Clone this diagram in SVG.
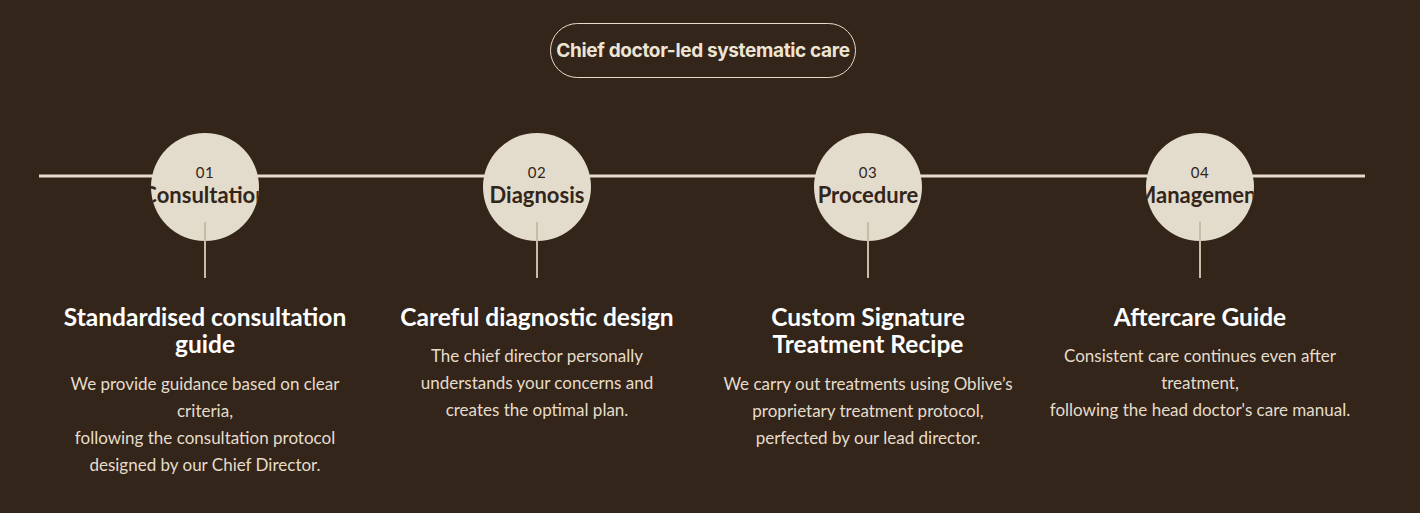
<svg xmlns="http://www.w3.org/2000/svg" width="1420" height="513" viewBox="0 0 1420 513">
<style>
.bg{fill:#33251a}
.pill{fill:none;stroke:#e6dccb;stroke-width:1}
.pilltxt{font-family:Inter,"Liberation Sans",sans-serif;font-weight:700;font-size:19px;fill:#eee4d4;text-anchor:middle;letter-spacing:-0.35px}
.circ{fill:#e3dccc}
.num{font-family:Lato,"Liberation Sans",sans-serif;font-size:15px;fill:#33251a;text-anchor:middle;letter-spacing:0.5px}
.lbl{font-family:Lato,"Liberation Sans",sans-serif;font-weight:700;font-size:22px;fill:#33251a;text-anchor:middle}
.head{font-family:Lato,"Liberation Sans",sans-serif;font-weight:700;font-size:24.5px;fill:#ffffff;text-anchor:middle}
.body{font-family:Lato,"Liberation Sans",sans-serif;font-size:17px;fill:#e6dccb;text-anchor:middle}
.hline{stroke:#e6dccb;stroke-width:3}
.vline{stroke:#c8bba8;stroke-width:2}
</style>
<defs>
<clipPath id="c1"><circle cx="205" cy="187" r="54"/></clipPath>
<clipPath id="c2"><circle cx="537" cy="187" r="54"/></clipPath>
<clipPath id="c3"><circle cx="868" cy="187" r="54"/></clipPath>
<clipPath id="c4"><circle cx="1200" cy="187" r="54"/></clipPath>
</defs>
<rect class="bg" x="0" y="0" width="1420" height="513"/>
<g id="title">
<rect class="pill" x="550.5" y="23.5" width="305" height="54" rx="27"/>
<text class="pilltxt" x="703" y="57">Chief doctor-led systematic care</text>
</g>
<g id="connectors">
<line class="hline" x1="39" y1="176" x2="1365" y2="176"/>
</g>
<g id="step1">
<circle class="circ" cx="205" cy="187" r="54"/>
<g clip-path="url(#c1)">
<text class="num" x="205" y="178">01</text>
<text class="lbl" x="205" y="203">Consultation</text>
</g>
<line class="vline" x1="205" y1="222" x2="205" y2="278"/>
<text class="head" x="205" y="326">Standardised consultation</text>
<text class="head" x="205" y="353">guide</text>
<text class="body" x="205" y="390">We provide guidance based on clear</text>
<text class="body" x="205" y="417">criteria,</text>
<text class="body" x="205" y="444">following the consultation protocol</text>
<text class="body" x="205" y="471">designed by our Chief Director.</text>
</g>
<g id="step2">
<circle class="circ" cx="537" cy="187" r="54"/>
<g clip-path="url(#c2)">
<text class="num" x="537" y="178">02</text>
<text class="lbl" x="537" y="203">Diagnosis</text>
</g>
<line class="vline" x1="537" y1="222" x2="537" y2="278"/>
<text class="head" x="537" y="326">Careful diagnostic design</text>
<text class="body" x="537" y="362">The chief director personally</text>
<text class="body" x="537" y="389">understands your concerns and</text>
<text class="body" x="537" y="416">creates the optimal plan.</text>
</g>
<g id="step3">
<circle class="circ" cx="868" cy="187" r="54"/>
<g clip-path="url(#c3)">
<text class="num" x="868" y="178">03</text>
<text class="lbl" x="868" y="203">Procedure</text>
</g>
<line class="vline" x1="868" y1="222" x2="868" y2="278"/>
<text class="head" x="868" y="326">Custom Signature</text>
<text class="head" x="868" y="353">Treatment Recipe</text>
<text class="body" x="868" y="390">We carry out treatments using Oblive’s</text>
<text class="body" x="868" y="417">proprietary treatment protocol,</text>
<text class="body" x="868" y="444">perfected by our lead director.</text>
</g>
<g id="step4">
<circle class="circ" cx="1200" cy="187" r="54"/>
<g clip-path="url(#c4)">
<text class="num" x="1200" y="178">04</text>
<text class="lbl" x="1200" y="203">Management</text>
</g>
<line class="vline" x1="1200" y1="222" x2="1200" y2="278"/>
<text class="head" x="1200" y="326">Aftercare Guide</text>
<text class="body" x="1200" y="362">Consistent care continues even after</text>
<text class="body" x="1200" y="389">treatment,</text>
<text class="body" x="1200" y="416">following the head doctor's care manual.</text>
</g>
</svg>
